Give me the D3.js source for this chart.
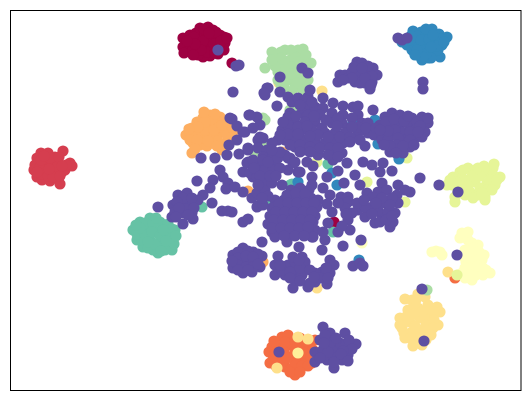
<!doctype html>
<html>
<head>
    <style>
        html, body { margin: 0; padding: 0; background: #fff; }
        svg { display: block; }
        .frame { fill: none; stroke: #000; stroke-width: 1; }
    </style>
    <script src="https://d3js.org/d3.v7.min.js"></script>
    <title>scatter</title>
</head>
<body>
<svg width="531" height="401"></svg>
<script>
// values, one list per class, in draw order
var crimson = [[183,38],[190,35],[183,47],[190,44],[184,53],[196,33],[200,28],[208,27],[213,30],[220,35],[224,37],[225,43],[224,50],[218,54],[210,56],[203,57],[198,55],[193,50],[198,40],[205,35],[212,38],[218,42],[205,45],[212,48],[198,47],[190,40],[232,63],[334,222],
  [204,29],[216,32],[194,37],[203,41],[209,33],[214,44],[219,48],[207,52],[201,50],[195,44],[187,41],[221,41],[215,53],[193,55],[227,38]];
var red = [[41,153],[48,153],[37,158],[55,157],[63,151],[35,165],[34,170],[37,177],[42,180],[50,181],[56,178],[60,184],[62,172],[65,170],[70,163],[72,166],[45,160],[52,165],[45,170],[55,172],[58,162],[40,167],[66,165],
  [41,160],[50,158],[57,167],[41,174],[48,176],[53,177],[60,176],[59,157],[49,169],[37,172],[62,166],[44,156]];
var orangeRed = [[272,347],[282,337],[270,363],[269,352],[295,375],[312,363],[315,340],[285,367],[298,367],[280,347],[290,345],[300,345],[308,350],[290,357],[300,357],[278,358],[305,360],[292,368],[455,278],[288,335],[300,338],[310,345],
  [274,341],[285,342],[295,340],[305,341],[313,350],[314,356],[275,354],[284,352],[295,351],[304,353],[311,357],[273,360],[283,361],[295,362],[302,366],[308,366],[290,372],[300,372],[287,358],[276,366]];
var orange = [[192,153],[186,135],[193,143],[200,145],[207,146],[213,143],[222,150],[228,140],[233,137],[230,128],[225,122],[220,117],[210,115],[203,118],[197,122],[192,128],[200,130],[208,125],[216,125],[222,132],[210,135],[203,138],[215,137],[193,136],[248,191],[282,152],[263,262],
  [190,133],[197,135],[205,130],[212,120],[218,128],[225,130],[227,135],[218,141],[205,122],[198,127],[190,140],[197,140],[208,141],[214,130],[222,125],[195,149],[224,145],[217,146],[204,112],[215,114],[234,130],[189,129]];
var yellow = [[400,318],[405,299],[418,294],[412,300],[437,307],[440,312],[438,325],[428,333],[415,342],[405,338],[402,328],[408,310],[418,308],[428,305],[420,318],[430,318],[410,322],[420,330],[412,332],[428,312],[448,272],[322,91],[279,83],[298,337],[308,339],[277,368],[317,288],
  [414,305],[422,312],[434,312],[434,320],[426,325],[433,328],[404,322],[407,316],[414,314],[415,326],[404,333],[410,338],[420,338],[426,340],[431,335],[422,345],[413,346],[400,325],[425,297],[416,300]];
var lightYellow = [[298,353]];
var pale = [[465,237],[460,238],[478,245],[482,260],[490,273],[472,280],[462,273],[465,250],[432,252],[440,252],[442,255],[436,251],[472,255],[475,268],[466,262],[480,272],[472,243],[483,275],[362,243],
  [468,240],[474,248],[479,252],[470,262],[478,260],[484,255],[469,268],[476,275],[465,268],[470,275],[478,266],[486,270],[463,256],[465,278],[483,268],[468,232],[462,233]];
var lime = [[453,177],[468,168],[493,168],[500,177],[485,197],[455,197],[455,202],[485,200],[460,172],[475,170],[485,172],[465,180],[475,182],[487,183],[495,185],[460,188],[470,192],[478,195],[452,185],[407,158],[367,182],[317,162],[457,275],[405,202],[447,185],
  [493,175],[490,180],[480,176],[472,176],[462,178],[456,182],[468,186],[480,188],[487,190],[492,190],[497,180],[465,195],[473,198],[458,192],[450,180],[478,168],[463,170],[484,166],[494,164],[482,193]];
var green = [[285,50],[298,50],[275,57],[308,63],[302,57],[295,87],[285,90],[278,80],[278,63],[290,60],[300,68],[285,72],[295,75],[305,75],[278,72],[290,80],[265,68],[308,80],[290,110],[298,108],[263,118],[263,145],[255,152],[427,290],[265,120],
  [281,52],[291,50],[303,49],[306,55],[281,58],[285,64],[295,58],[298,62],[292,67],[305,68],[311,63],[282,70],[300,80],[305,85],[272,52],[275,66],[297,83],[285,82],[291,74],[303,90],[281,85],[272,60],[292,91]];
var teal = [[133,230],[150,218],[140,222],[160,222],[175,230],[172,250],[158,253],[143,247],[137,240],[147,230],[157,232],[167,235],[150,240],[160,243],[168,243],[138,232],[166,226],[202,207],[292,184],[328,164],[290,185],[333,232],[270,203],
  [145,223],[153,224],[168,224],[172,229],[172,238],[174,244],[165,250],[153,250],[148,248],[142,240],[137,234],[145,235],[152,232],[160,236],[166,241],[154,244],[140,228],[136,225],[156,218],[176,236],[161,251],[148,242],[163,230]];
var blue = [[413,31],[421,32],[432,29],[439,34],[447,37],[442,45],[440,57],[434,52],[428,58],[422,60],[418,55],[412,50],[407,45],[402,42],[415,40],[425,42],[433,42],[425,50],[419,47],[378,144],[399,159],[375,120],[298,182],[332,173],[337,185],[359,260],[353,123],
  [418,36],[426,35],[436,38],[441,39],[438,50],[431,58],[426,54],[415,45],[410,40],[411,36],[421,40],[429,39],[437,46],[431,47],[423,57],[417,50],[444,42],[426,29],[415,55],[433,35]];
var purple = [[218,50],[236,66],[239,65],[398,38],[402,40],[407,38],
  [357,62],[373,68],[377,75],[370,89],[340,75],[345,75],[338,82],[355,82],[365,73],[360,70],[348,78],[372,82],[365,83],[362,63],[423,82],[423,89],
  [352,72],[358,76],[368,74],[372,76],[360,83],[365,78],[352,78],[343,80],[368,66],[354,67],[371,85],[362,68],
  [302,68],[308,73],[280,77],[267,88],[265,95],[280,92],[277,106],[288,97],[292,102],[298,98],[308,97],[310,90],[305,100],[323,98],[333,103],[343,106],[353,107],[358,106],[373,110],[290,113],
  [307,107],[315,107],[323,108],[302,113],[308,115],[320,115],[332,113],[343,115],[285,122],[295,123],[305,122],[315,122],[282,130],[292,128],[302,130],[312,130],[322,128],[332,123],[342,123],[348,128],[358,115],[362,123],[368,123],[368,133],[358,133],[285,140],[295,140],[305,140],[315,142],[325,133],[335,133],[345,133],[325,143],[335,143],[343,143],[332,152],[342,153],[318,155],[333,160],[365,146],[305,150],[295,147],[278,140],
  [300,105],[312,102],[288,117],[296,116],[314,116],[326,120],[338,118],[352,118],[337,126],[288,125],[298,127],[307,126],[318,135],[328,137],[340,137],[350,137],[358,127],[366,128],[374,135],[288,134],[298,134],[310,136],[352,127],[280,135],[290,145],[300,145],[310,147],[320,148],[330,148],[338,148],[328,155],[338,157],[300,152],[310,152],[350,142],[360,140],
  [380,125],[392,113],[400,115],[385,117],[390,125],[398,125],[382,135],[382,140],[392,135],[402,132],[412,118],[422,117],[428,123],[425,132],[415,128],[407,123],[405,140],[415,138],[422,137],[410,147],[403,153],[390,152],[388,140],
  [386,122],[394,119],[404,121],[408,116],[417,122],[420,126],[410,132],[395,130],[388,131],[398,138],[410,140],[418,132],[397,145],[403,146],[390,146],[384,145],[396,153],[414,145],[376,128],[380,130],[428,118],
  [363,162],[372,165],[383,163],[380,172],[392,171],[347,163],[420,178],[439,185],[338,171],[327,177],[344,183],[355,175],[360,185],[323,188],[330,195],[298,172],[312,177],[312,185],[282,185],[288,170],[293,163],[307,162],[313,166],[275,163],[288,158],
  [382,183],[398,185],[410,192],[378,192],[367,193],[373,197],[387,190],[405,190],[397,195],[341,197],[348,197],
  [398,203],[395,213],[390,227],[375,223],[365,217],[358,210],[348,202],[345,208],[382,217],[393,222],[385,203],[372,207],[378,210],[388,212],[365,207],[348,220],[338,232],[350,230],[343,246],[361,240],[322,250],[325,240],[312,237],[315,230],[323,232],[328,223],[332,212],[327,204],
  [392,198],[382,198],[376,203],[390,205],[372,214],[380,222],[386,220],[392,216],[352,213],[357,203],[364,200],[338,203],[342,226],[346,214],
  [291,190],[300,188],[309,190],[275,200],[284,200],[293,198],[302,198],[311,198],[318,200],[272,208],[281,208],[290,207],[299,207],[308,207],[317,207],[270,216],[279,216],[288,216],[297,216],[306,216],[315,216],[268,224],[277,224],[286,224],[295,224],[304,224],[313,222],[272,232],[281,232],[290,233],[299,232],[308,232],[287,242],[275,237],[262,242],[299,247],[313,237],
  [287,195],[296,193],[305,194],[279,204],[288,203],[297,203],[306,203],[314,203],[276,212],[285,212],[294,212],[303,212],[312,212],[274,220],[283,220],[292,220],[301,220],[310,220],[272,228],[281,228],[290,228],[299,228],[308,227],[284,236],[295,236],[304,236],
  [243,248],[233,255],[233,268],[243,273],[252,272],[260,267],[262,256],[253,252],[242,260],[250,262],[257,260],[235,262],
  [238,252],[248,251],[258,254],[238,258],[246,256],[253,257],[238,265],[246,267],[253,267],[258,264],[238,270],[248,270],[232,261],
  [278,256],[275,265],[275,275],[288,265],[302,257],[293,288],[308,287],[315,282],[327,284],[322,272],[330,260],[334,265],[330,273],[285,275],[295,270],[305,267],[295,280],[302,275],[315,273],[305,262],[295,262],[310,283],
  [282,270],[290,272],[300,268],[310,270],[320,278],[326,268],[290,278],[300,281],[280,265],[293,257],[299,260],[314,277],[328,278],
  [353,266],[360,263],[363,266],
  [201,158],[215,158],[227,155],[239,154],[248,150],[197,181],[158,207],[220,170],[223,177],[228,183],[226,189],[235,187],[243,192],[252,198],[260,205],[213,180],[210,188],[203,195],[212,203],[222,211],[228,211],[232,212],[243,222],[248,219],[183,224],[193,219],[172,217],[173,205],[178,195],[187,193],[190,205],[182,205],[198,200],[175,212],[183,213],[192,213],
  [183,198],[192,198],[177,202],[186,209],[194,208],[179,208],[188,215],[176,217],
  [233,92],[268,88],[264,93],[249,115],[257,117],[232,119],[237,126],[260,125],[245,132],[253,128],[237,140],[229,145],[258,140],[272,143],[263,138],[248,148],[258,148],[267,150],[283,122],[230,118],[250,115],[243,132],[260,137],
  [248,162],[243,172],[253,177],[257,163],[263,157],[263,170],[247,163],[253,160],[263,160],[250,173],[257,177],[265,170],[263,183],[257,193],[265,190],[267,180],[273,170],[280,168],[290,158],[295,162],[273,157],[285,155],[272,183],[300,172],[257,207],[263,205],
  [254,168],[260,176],[270,176],[268,162],[278,158],[258,185],[268,196],[262,198],[276,176],[280,152],[272,150],
  [315,352],[315,362],[323,327],[330,333],[345,333],[356,344],[348,355],[334,368],[320,340],[327,360],[335,350],[340,343],[330,343],[323,350],[342,360],[334,358],[346,345],
  [325,335],[336,338],[349,340],[352,349],[343,351],[328,352],[320,358],[334,362],[341,354],[324,343],[348,361],
  [279,352],[422,289],[424,341],[458,192],[457,255]];

var classes = [crimson, red, orangeRed, orange, yellow, lightYellow, pale, lime, green, teal, blue, purple];
var classColors = ["#9e0142", "#d53e4f", "#f46d43", "#fdae61", "#fee08b", "#fff09a", "#ffffbf", "#e6f598", "#abdda4", "#66c2a5", "#3288bd", "#5e4fa2"];

var svg = d3.select("svg"),
    left = 10.5, right = 521, top_ = 10.5, bottom = 390.5;

var xScale = d3.scaleLinear().domain([left, right]).range([left, right]),
    yScale = d3.scaleLinear().domain([top_, bottom]).range([top_, bottom]);

classes.forEach(function(points, i) {
    svg.append("g")
       .selectAll("circle")
       .data(points)
       .enter().append("circle")
       .attr("cx", function(d) { return xScale(d[0]); })
       .attr("cy", function(d) { return yScale(d[1]); })
       .attr("r", 5.6)
       .attr("fill", classColors[i]);
});

svg.append("rect")
   .attr("class", "frame")
   .attr("x", left)
   .attr("y", top_)
   .attr("width", right - left)
   .attr("height", bottom - top_);
</script>
</body>
</html>
